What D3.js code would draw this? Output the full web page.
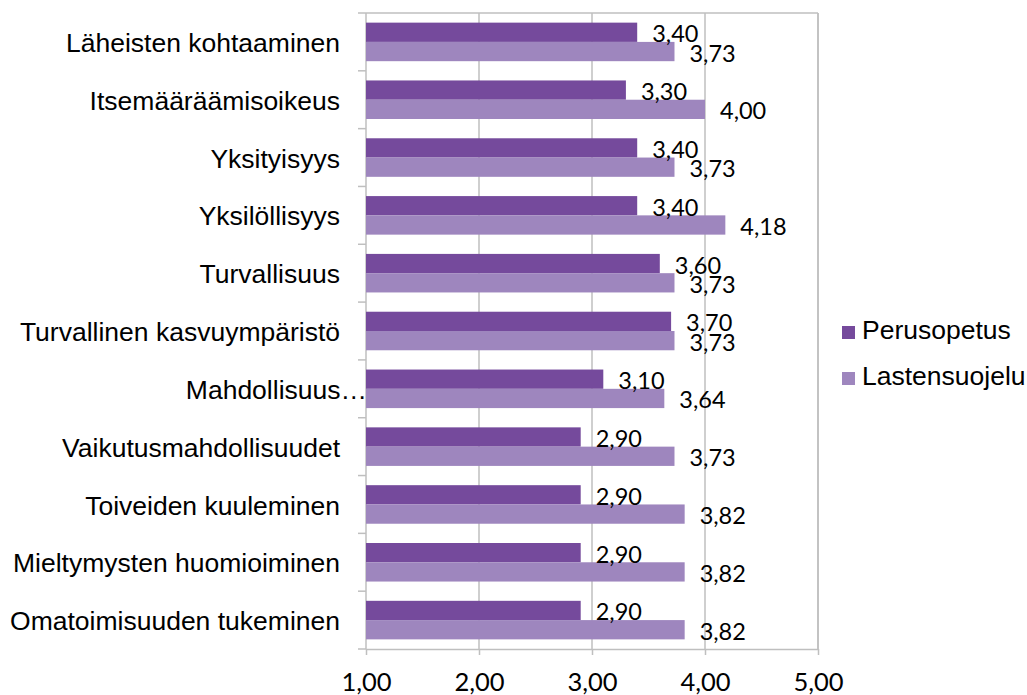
<!DOCTYPE html>
<html><head><meta charset="utf-8">
<script src="https://cdn.jsdelivr.net/npm/d3@7"></script>
<style>body{margin:0;background:#fff}</style>
</head><body>
<svg id="c" width="1027" height="695"></svg>
<script>
const categories = ["Läheisten kohtaaminen","Itsemääräämisoikeus","Yksityisyys","Yksilöllisyys","Turvallisuus","Turvallinen kasvuympäristö","Mahdollisuus…","Vaikutusmahdollisuudet","Toiveiden kuuleminen","Mieltymysten huomioiminen","Omatoimisuuden tukeminen"];
const seriesNames = ["Perusopetus","Lastensuojelu"];
const perusopetus = [3.40,3.30,3.40,3.40,3.60,3.70,3.10,2.90,2.90,2.90,2.90];
const lastensuojelu = [3.73,4.00,3.73,4.18,3.73,3.73,3.64,3.73,3.82,3.82,3.82];
const xTicks = [1,2,3,4,5];
const colors = ["#754A9C","#9E86BE"];

const svg = d3.select("#c");
const L = 366, R = 818, T = 13, B = 649;
const x = d3.scaleLinear().domain([1,5]).range([L,R]);
const y = d3.scaleBand().domain(categories).range([T,B]).padding(0);
const ys = d3.scaleBand().domain(seriesNames).range([0,y.bandwidth()]).paddingInner(0).paddingOuter(0.5);
const fmt = v => d3.format(".2f")(v).replace(".",",");
const grid = "#BFBFBF";
const numFont = "Lato, 'Open Sans', sans-serif";
const txtFont = "'Liberation Sans', Arial, sans-serif";

// gridlines
svg.append("g").selectAll("line").data(xTicks.slice(1)).join("line")
  .attr("x1",d=>x(d)).attr("x2",d=>x(d)).attr("y1",T).attr("y2",B)
  .attr("stroke",grid).attr("stroke-width",1.5);
// top border
svg.append("line").attr("x1",L).attr("x2",R).attr("y1",T).attr("y2",T).attr("stroke",grid).attr("stroke-width",1.5);

// bottom axis
const xa = svg.append("g").attr("transform",`translate(0,${B})`)
  .call(d3.axisBottom(x).tickValues(xTicks).tickFormat(fmt).tickSize(6).tickSizeOuter(0));
xa.select(".domain").attr("stroke",grid).attr("stroke-width",1.5);
xa.selectAll(".tick line").attr("stroke",grid).attr("stroke-width",1.5);
xa.selectAll(".tick text").attr("font-family",numFont).attr("font-size",25.5).attr("fill","#000").attr("y",41.5).attr("dy",0);

// left axis
const bounds = d3.range(categories.length+1).map(i=>T+i*y.step());
svg.append("line").attr("x1",L).attr("x2",L).attr("y1",T).attr("y2",B).attr("stroke",grid).attr("stroke-width",1.5);
svg.append("g").selectAll("line").data(bounds).join("line")
  .attr("x1",L-8).attr("x2",L).attr("y1",d=>d).attr("y2",d=>d).attr("stroke",grid).attr("stroke-width",1.5);

const data = categories.map((c,i)=>({c, vals:[perusopetus[i], lastensuojelu[i]]}));
const g = svg.append("g").selectAll("g").data(data).join("g").attr("transform",d=>`translate(0,${y(d.c)})`);
g.selectAll("rect").data(d=>d.vals.map((v,j)=>({v,s:seriesNames[j],j}))).join("rect")
  .attr("x",x(1)).attr("y",d=>ys(d.s)).attr("width",d=>x(d.v)-x(1)).attr("height",ys.bandwidth())
  .attr("fill",d=>colors[d.j]);
g.selectAll("text.v").data(d=>d.vals.map((v,j)=>({v,s:seriesNames[j],j}))).join("text").attr("class","v")
  .attr("x",d=>x(d.v)+15).attr("y",d=>ys(d.s)+ys.bandwidth()/2+10)
  .attr("font-family",numFont).attr("font-size",23.5).attr("fill","#000")
  .text(d=>fmt(d.v));

// category labels
svg.append("g").selectAll("text").data(categories).join("text")
  .attr("x",(d)=>d.endsWith("…")?367:340).attr("y",d=>y(d)+y.bandwidth()/2).attr("dy","0.38em")
  .attr("text-anchor","end").attr("font-family",txtFont).attr("font-size",26.5).attr("fill","#000")
  .text(d=>d);

// right border
svg.append("line").attr("x1",R).attr("x2",R).attr("y1",T).attr("y2",B).attr("stroke",grid).attr("stroke-width",1.5);

// legend
const lg = svg.append("g").selectAll("g").data(seriesNames).join("g")
  .attr("transform",(d,i)=>`translate(842,${339+i*46})`);
lg.append("rect").attr("x",0).attr("y",-13).attr("width",13).attr("height",13).attr("fill",(d,i)=>colors[i]);
lg.append("text").attr("x",20).attr("y",0).attr("font-family",txtFont).attr("font-size",26.5).attr("fill","#000").text(d=>d);
</script>
</body></html>
